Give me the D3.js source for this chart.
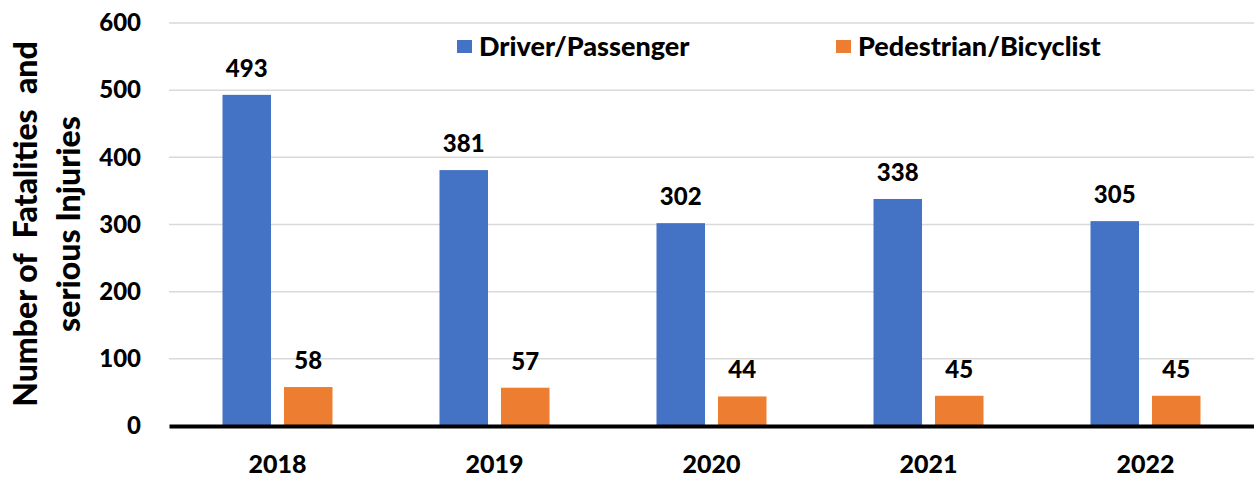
<!DOCTYPE html>
<html>
<head>
<meta charset="utf-8">
<script src="https://cdn.jsdelivr.net/npm/d3@7"></script>
<style>
  body { margin: 0; background: #fff; }
  text { font-family: Lato, "Open Sans", sans-serif; font-weight: 900; fill: #000; }
</style>
</head>
<body>
<div id="chart"></div>
<script>
// data
var years = ["2018", "2019", "2020", "2021", "2022"];
var seriesNames = ["Driver/Passenger", "Pedestrian/Bicyclist"];
var driverPassenger = [493, 381, 302, 338, 305];
var pedestrianBicyclist = [58, 57, 44, 45, 45];
var yTicks = [0, 100, 200, 300, 400, 500, 600];
var colors = ["#4472C4", "#ED7D31"];

var width = 1254, height = 477;
var margin = { top: 23, right: 0, bottom: 51, left: 169 };

var svg = d3.select("#chart").append("svg")
    .attr("width", width)
    .attr("height", height);

var rows = years.map(function (y, i) {
    return { year: y, values: [driverPassenger[i], pedestrianBicyclist[i]] };
});

// scales
var x0 = d3.scaleBand()
    .domain(years)
    .range([margin.left, width - margin.right]);
var x1 = d3.scaleBand()
    .domain([0, 1])
    .range([0, x0.bandwidth()])
    .paddingInner(0.211)
    .paddingOuter(0.87);
var y = d3.scaleLinear()
    .domain([0, 600])
    .range([height - margin.bottom, margin.top]);

// gridlines
svg.append("g")
    .selectAll("line")
    .data(yTicks.slice(1))
    .enter().append("line")
    .attr("x1", margin.left)
    .attr("x2", width - margin.right)
    .attr("y1", function (d) { return y(d); })
    .attr("y2", function (d) { return y(d); })
    .attr("stroke", "#d9d9d9")
    .attr("stroke-width", 1.5);

// y axis labels
var yAxis = svg.append("g")
    .attr("transform", "translate(" + margin.left + ",0)")
    .call(d3.axisLeft(y).tickValues(yTicks).tickSize(0).tickPadding(28));
yAxis.select(".domain").remove();
yAxis.selectAll("text")
    .style("font-family", "Lato, sans-serif")
    .style("font-weight", 900)
    .style("font-size", "24px")
    .attr("fill", "#000");

// bars
var groups = svg.append("g")
    .selectAll("g")
    .data(rows)
    .enter().append("g")
    .attr("transform", function (d) { return "translate(" + x0(d.year) + ",0)"; });

groups.selectAll("rect")
    .data(function (d) { return d.values; })
    .enter().append("rect")
    .attr("x", function (d, i) { return x1(i); })
    .attr("width", x1.bandwidth())
    .attr("y", function (d) { return y(d); })
    .attr("height", function (d) { return y(0) - y(d); })
    .attr("fill", function (d, i) { return colors[i]; });

// value labels
groups.selectAll("text")
    .data(function (d) { return d.values; })
    .enter().append("text")
    .attr("x", function (d, i) { return x1(i) + x1.bandwidth() / 2; })
    .attr("y", function (d) { return y(d) - 18; })
    .attr("text-anchor", "middle")
    .style("font-size", "24px")
    .text(function (d) { return d; });

// x axis
var xAxis = svg.append("g")
    .attr("transform", "translate(0," + y(0) + ")")
    .call(d3.axisBottom(x0).tickSize(0).tickPadding(29));
xAxis.select(".domain")
    .attr("stroke", "#000")
    .attr("stroke-width", 4);
xAxis.selectAll("text")
    .style("font-family", "Lato, sans-serif")
    .style("font-weight", 900)
    .style("font-size", "25px")
    .attr("fill", "#000");

// legend
var legendX = [457, 836];
var legend = svg.append("g")
    .selectAll("g")
    .data(seriesNames)
    .enter().append("g")
    .attr("transform", function (d, i) { return "translate(" + legendX[i] + ",40)"; });
legend.append("rect")
    .attr("width", 15)
    .attr("height", 13)
    .attr("fill", function (d, i) { return colors[i]; });
legend.append("text")
    .attr("x", 22)
    .attr("y", 7)
    .attr("dy", "0.35em")
    .style("font-size", "27px")
    .text(function (d) { return d; });

// y axis title
var title = svg.append("text")
    .attr("transform", "translate(37,224) rotate(-90)")
    .attr("text-anchor", "middle")
    .style("font-size", "32px")
    .style("white-space", "pre");
title.append("tspan")
    .attr("x", 0)
    .attr("y", 0)
    .text("Number of  Fatalities  and");
title.append("tspan")
    .attr("x", 0)
    .attr("y", 43)
    .text("serious Injuries");
</script>
</body>
</html>
